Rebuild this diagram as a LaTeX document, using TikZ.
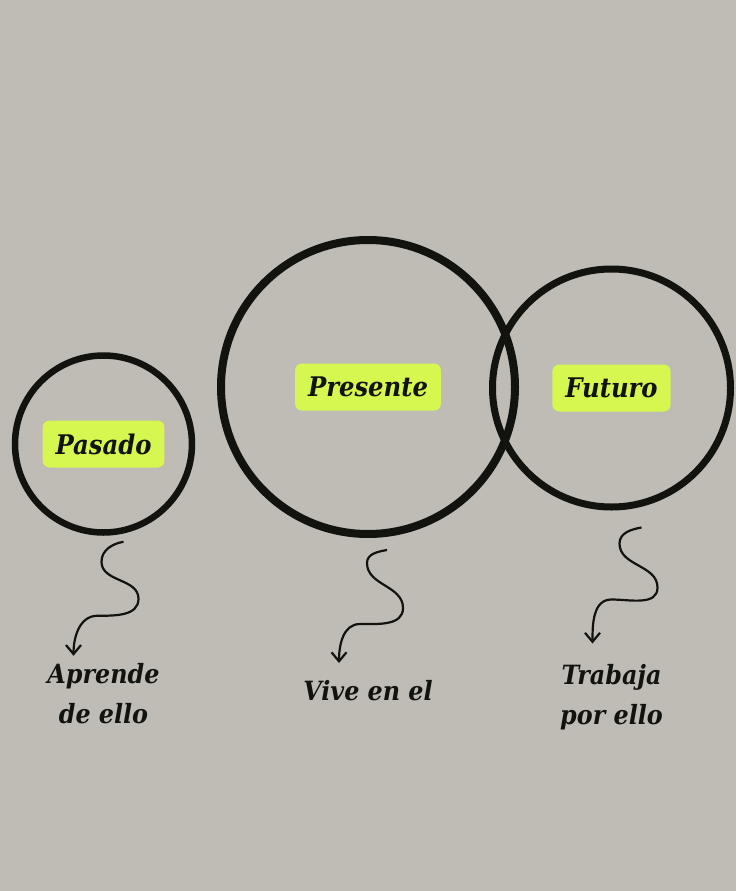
\documentclass[tikz,border=0pt]{standalone}
\usepackage{fontspec}
\setmainfont{DejaVu Serif}
\newfontfamily\slabfont{DejaVu Serif Condensed}
\usetikzlibrary{arrows.meta,positioning,shapes}

\definecolor{paper}{RGB}{191,188,182}
\definecolor{highlight}{RGB}{214,246,80}
\definecolor{ink}{RGB}{18,19,15}

\begin{document}
\begin{tikzpicture}[x=1pt,y=1pt,
	ring/.style={circle,draw=ink,inner sep=0pt},
	tag/.style={rounded corners=7pt,fill=highlight,inner xsep=13pt,minimum height=47pt,
		text=ink,font=\slabfont\fontsize{27}{30}\selectfont\bfseries\itshape},
	note/.style={align=center,inner sep=2pt,text=ink,font=\slabfont\fontsize{26.5}{40}\selectfont\bfseries\itshape},
	squiggle/.style={draw=ink,line width=2.2pt,-{Straight Barb[length=9pt,width=15pt]}}]

    % paper
    \fill[paper] (0,0) rectangle (736,-891);

    \node[ring,line width=6.5pt,minimum size=177pt] (pasado) at (103.5,-444) {};
    \node[ring,line width=8pt,minimum size=294pt] (presente) at (368,-387) {};
    \node[ring,line width=7pt,minimum size=238pt] (futuro) at (611.5,-388) {};

    \node[tag] (pasadotag) at (pasado.center) {Pasado};
    \node[tag] (presentetag) at (presente.center) {Presente};
    \node[tag] (futurotag) at (futuro.center) {Futuro};

    \node[note] (aprende) [below = 125pt of pasado] {Aprende\\de ello};
    \node[note] (vive) [below = 140pt of presente] {Vive en el};
    \node[note] (trabaja) [below = 152pt of futuro] {Trabaja\\por ello};

    % wavy arrows
    \draw[squiggle] ([shift={(20,-6)}]pasado.south) to[out=190,in=90] ++(-22,-20)
	to[out=-90,in=90] ++(37,-37) to[out=-90,in=0] ++(-41,-17)
	to[out=180,in=90] ([shift={(-30,5)}]aprende.north);
    \draw[squiggle] ([shift={(19,-12)}]presente.south) to[out=190,in=90] ++(-20,-13)
	to[out=-90,in=90] ++(36,-45) to[out=-90,in=0] ++(-43,-16)
	to[out=180,in=90] ([shift={(-29,15)}]vive.north);
    \draw[squiggle] ([shift={(30,-17)}]futuro.south) to[out=190,in=90] ++(-22,-16)
	to[out=-90,in=90] ++(38,-44) to[out=-90,in=0] ++(-46,-12)
	to[out=180,in=90] ([shift={(-19,19)}]trabaja.north);

\end{tikzpicture}
\end{document}
